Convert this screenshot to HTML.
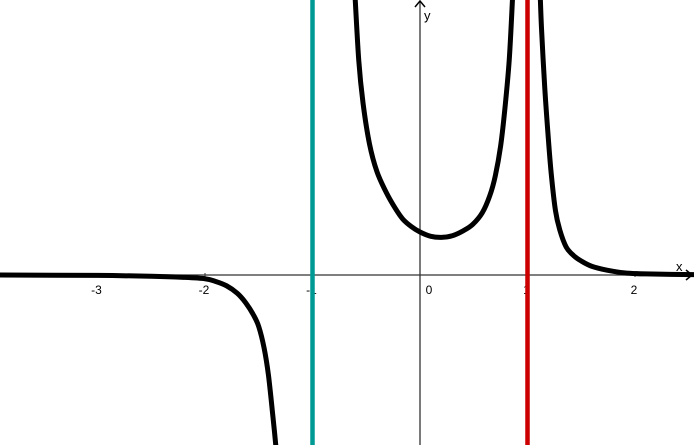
<!DOCTYPE html>
<html><head><meta charset="utf-8"><style>
html,body{margin:0;padding:0;background:#fff;width:694px;height:445px;overflow:hidden;}
svg{display:block;font-family:"Liberation Sans",sans-serif;overflow:hidden;}
</style></head><body>
<svg id="chart" width="694" height="445">
<g id="axes"></g>
<g id="asym"></g>
<g id="curves"></g>
</svg>
<script>
const xTicks = [-3, -2, -1, 0, 1, 2];
const xTickLabels = ["-3", "-2", "-1", "0", "1", "2"];
const asymptoteX = [-1, 1];
const asymptoteColors = ["#009a94", "#cc0000"];
const leftBranchX = [-3.91, -3, -2.5, -2.2, -2.0, -1.9, -1.8, -1.7, -1.62, -1.55, -1.5, -1.45, -1.41, -1.37, -1.34, -1.31];
const leftBranchY = [0, -0.004, -0.012, -0.022, -0.035, -0.06, -0.1, -0.17, -0.26, -0.37, -0.48, -0.68, -0.93, -1.3, -1.6, -1.95];
const midBranchX = [-0.61, -0.57, -0.53, -0.47, -0.4, -0.31, -0.23, -0.16, -0.08, 0, 0.1, 0.2, 0.3, 0.4, 0.49, 0.58, 0.65, 0.7, 0.75, 0.79, 0.83, 0.86, 0.866];
const midBranchY = [2.7, 2.0, 1.6, 1.22, 0.96, 0.76, 0.62, 0.52, 0.45, 0.40, 0.36, 0.35, 0.365, 0.41, 0.47, 0.58, 0.74, 0.92, 1.2, 1.55, 2.0, 2.56, 2.7];
const rightBranchX = [1.115, 1.13, 1.16, 1.19, 1.22, 1.26, 1.3, 1.36, 1.43, 1.5, 1.6, 1.74, 1.9, 2.1, 2.6];
const rightBranchY = [2.7, 2.3, 1.75, 1.32, 0.95, 0.6, 0.42, 0.26, 0.18, 0.13, 0.08, 0.045, 0.02, 0.01, 0.003];

const X0 = 420, Y0 = 275, U = 107.5;
const sx = v => X0 + v * U;
const sy = v => Y0 - v * U;
const NS = "http://www.w3.org/2000/svg";
function mk(tag, attrs, parent) {
  const e = document.createElementNS(NS, tag);
  for (const k in attrs) e.setAttribute(k, attrs[k]);
  parent.appendChild(e);
  return e;
}
const axes = document.getElementById('axes');
let e = mk('line', {x1: 0, y1: Y0, x2: 692, y2: Y0, stroke: '#333', 'stroke-width': 1.3}, axes);


e = mk('path', {d: `M686 ${Y0-5} L692 ${Y0} L686 ${Y0+5}`, fill: 'none', stroke: '#000', 'stroke-width': 1.5}, axes);


e = mk('line', {x1: X0, y1: 445, x2: X0, y2: 1, stroke: '#333', 'stroke-width': 1.3}, axes);


e = mk('path', {d: `M${X0-5} 7 L${X0} 1 L${X0+5} 7`, fill: 'none', stroke: '#000', 'stroke-width': 1.5}, axes);


e = mk('text', {x: 676, y: 271, 'font-size': 13}, axes); e.textContent = 'x';


e = mk('text', {x: 424, y: 20, 'font-size': 13}, axes); e.textContent = 'y';


xTicks.forEach((t, i) => {
  if (t !== 0) {
    const tk = mk('line', {x1: sx(t), y1: Y0 - 2, x2: sx(t), y2: Y0 + 2, stroke: '#333', 'stroke-width': 1}, axes);
    
    
  }
  const lx = t === 0 ? sx(t) + 9 : sx(t) - 1;
  const tl = mk('text', {x: lx, y: Y0 + 19, 'font-size': 12, 'text-anchor': 'middle'}, axes);
  tl.textContent = xTickLabels[i];
  
  
});
const asym = document.getElementById('asym');
asymptoteX.forEach((a, i) => {
  const l = mk('line', {x1: sx(a), y1: 0, x2: sx(a), y2: 445, stroke: asymptoteColors[i], 'stroke-width': 4.5}, asym);
  
  
});
function spline(xs, ys) {
  const p = xs.map((x, i) => [sx(x), sy(ys[i])]);
  let d = `M${p[0][0]} ${p[0][1]}`;
  for (let i = 0; i < p.length - 1; i++) {
    const p0 = p[Math.max(0, i - 1)], p1 = p[i], p2 = p[i + 1], p3 = p[Math.min(p.length - 1, i + 2)];
    const c1 = [p1[0] + (p2[0] - p0[0]) / 6, p1[1] + (p2[1] - p0[1]) / 6];
    const c2 = [p2[0] - (p3[0] - p1[0]) / 6, p2[1] - (p3[1] - p1[1]) / 6];
    d += ` C${c1[0]} ${c1[1]} ${c2[0]} ${c2[1]} ${p2[0]} ${p2[1]}`;
  }
  return d;
}
const curves = document.getElementById('curves');
[[leftBranchX, leftBranchY, 'left-branch'], [midBranchX, midBranchY, 'middle-branch'], [rightBranchX, rightBranchY, 'right-branch']].forEach(b => {
  const c = mk('path', {d: spline(b[0], b[1]), fill: 'none', stroke: '#000', 'stroke-width': 5, 'stroke-linecap': 'round', 'stroke-linejoin': 'round'}, curves);
  
  
});
</script>
</body></html>
